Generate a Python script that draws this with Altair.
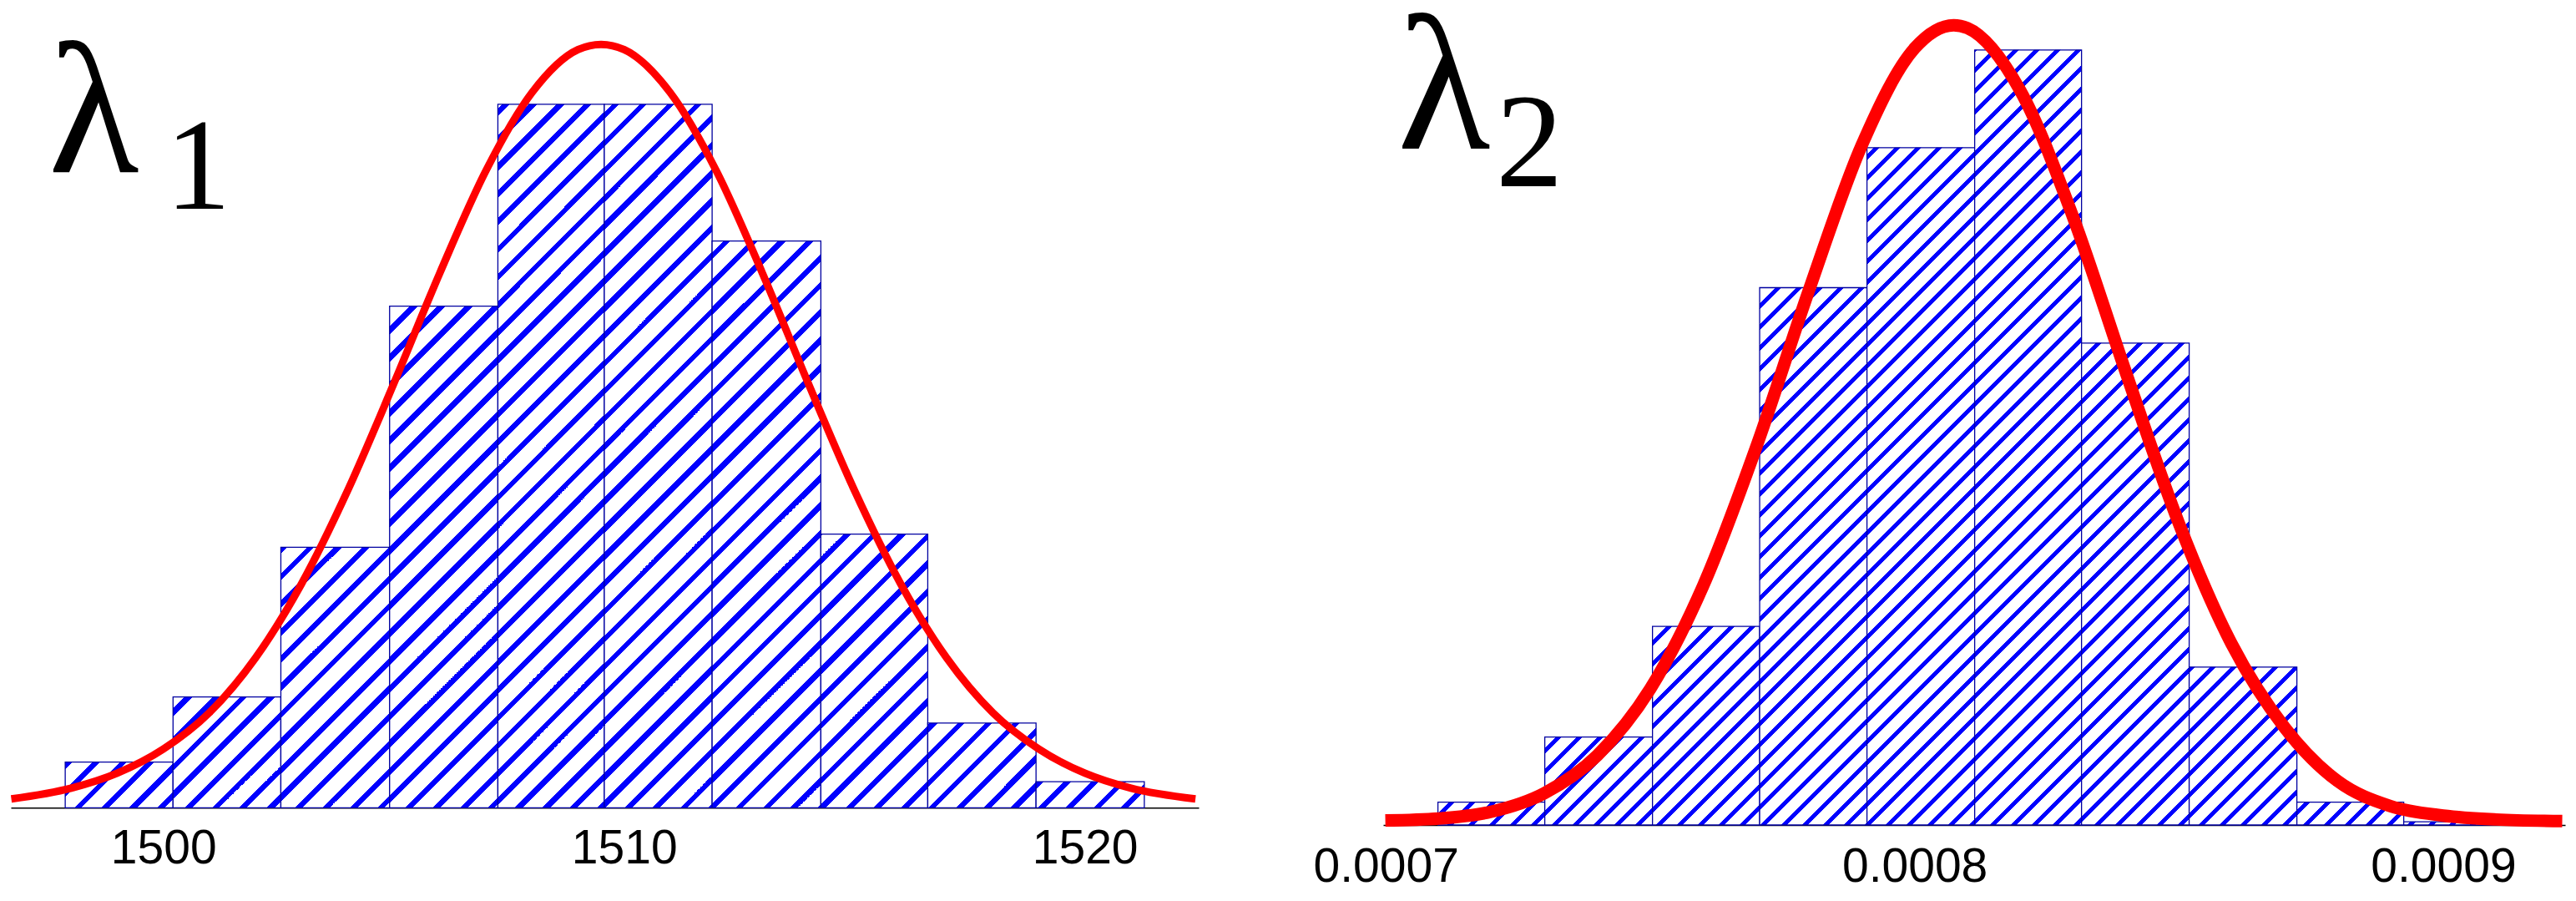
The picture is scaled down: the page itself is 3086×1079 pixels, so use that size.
import altair as alt
import pandas as pd

# ---------------- data ----------------
# left panel (lambda_1)
l1_edges = [1497.87, 1500.21, 1502.55, 1504.91, 1507.26, 1509.57, 1511.91, 1514.27, 1516.59, 1518.94, 1521.29]
l1_counts = [7, 17, 40, 77, 108, 108, 87, 42, 13, 4]
l1_curve_x = [1496.7, 1498, 1499, 1500, 1501, 1502, 1503, 1504, 1505, 1506, 1507, 1508, 1509, 1509.5,
              1510, 1511, 1512, 1513, 1514, 1515, 1516, 1517, 1518, 1519, 1520, 1521, 1522.4]
l1_curve_y = [1.35, 3.0, 5.3, 9.0, 14.6, 23.0, 34.4, 48.7, 65.1, 82.1, 97.8, 109.8, 116.4, 117.2,
              116.4, 109.8, 97.8, 82.1, 65.1, 48.7, 34.4, 23.0, 14.6, 9.0, 5.3, 3.0, 1.35]
l1_ticks = [1500, 1510, 1520]
l1_labels = ["λ", "1"]

# right panel (lambda_2)
l2_edges = [0.00070985, 0.00073006, 0.00075043, 0.0007707, 0.000791, 0.00081137, 0.00083158,
            0.00085194, 0.00087231, 0.00089252, 0.00091288]
l2_counts = [7, 27, 61, 165, 208, 238, 148, 48.5, 7, 1]
l2_curve_x = [0.0006999, 0.00071, 0.00072, 0.00073, 0.00074, 0.00075, 0.00076, 0.00077, 0.00078,
              0.00079, 0.0008, 0.0008074, 0.00081, 0.00082, 0.00083, 0.00084, 0.00085, 0.00086,
              0.00087, 0.00088, 0.00089, 0.0009, 0.00091, 0.0009225]
l2_curve_y = [1.4, 2.0, 4.1, 9.8, 21.4, 41.8, 73.4, 115.8, 164.1, 208.7, 238.5, 245.6, 244.7,
              225.5, 186.6, 138.8, 92.6, 55.5, 29.9, 13.5, 5.8, 2.9, 1.7, 1.2]
l2_ticks = [0.0007, 0.0008, 0.0009]
l2_labels = ["λ", "2"]

BLUE = "#0000ff"
WHITE = "#ffffff"
PAGE = 8  # page margin: plot coordinate + PAGE = page pixel


def hatch_gradient(w, h, X0, Y0, period, sw, phase):
    """45-degree stripe fill for one bar (style only)."""
    L = w + h
    first = (phase - (X0 + Y0)) % period
    s = first - period
    stops = [(0.0, WHITE)]
    while s - sw / 2 < L:
        a = max(0.0, s - sw / 2)
        b = min(L, s + sw / 2)
        if b > 0 and a < L:
            stops += [(a / L, WHITE), (a / L, BLUE), (b / L, BLUE), (b / L, WHITE)]
        s += period
    stops.append((1.0, WHITE))
    k = w * (w + h) / (w * w + h * h)
    return alt.LinearGradient(
        gradient="linear",
        stops=[alt.GradientStop(color=c, offset=round(o, 6)) for o, c in stops],
        x1=0, y1=0, x2=round(k, 6), y2=round(k * h / w, 6),
    )


def panel(edges, counts, cx, cy, ticks, xdom, xrange, yrange, px_per_count, period, sw, phase,
          curve_w, fmt, label_pad, axis_offset, labels, lam_pos, sub_pos):
    ymax = (yrange[0] - yrange[1]) / px_per_count
    xs = alt.Scale(domain=xdom, range=xrange, nice=False, zero=False)
    ys = alt.Scale(domain=[0, ymax], range=yrange, nice=False, zero=True)
    xaxis = alt.Axis(values=ticks, format=fmt, title=None, ticks=False, tickSize=0, grid=False,
                     orient="bottom",
                     domainColor="black", domainWidth=1.5, labelFont="Liberation Sans",
                     labelFontSize=57, labelColor="black", labelPadding=label_pad,
                     labelBaseline="alphabetic", labelFlush=False, labelOverlap=False,
                     offset=axis_offset)
    layers = []
    for i in range(len(counts)):
        e0, e1, c = edges[i], edges[i + 1], counts[i]
        f0 = (e0 - xdom[0]) / (xdom[1] - xdom[0])
        f1 = (e1 - xdom[0]) / (xdom[1] - xdom[0])
        px0 = xrange[0] + f0 * (xrange[1] - xrange[0])
        px1 = xrange[0] + f1 * (xrange[1] - xrange[0])
        ytop = yrange[0] - c * px_per_count
        grad = hatch_gradient(px1 - px0, yrange[0] - ytop, PAGE + px0, PAGE + ytop, period, sw, phase)
        df = pd.DataFrame({"x0": [e0], "x1": [e1], "count": [c]})
        layers.append(
            alt.Chart(df).mark_rect(fill=grad, stroke="#0000a0", strokeWidth=1.3).encode(
                x=alt.X("x0:Q", scale=xs, axis=xaxis),
                x2="x1:Q",
                y=alt.Y("count:Q", scale=ys, axis=None),
                y2=alt.datum(0),
            )
        )
    cdf = pd.DataFrame({"x0": cx, "count": cy})
    layers.append(
        alt.Chart(cdf).mark_line(color="#ff0000", strokeWidth=curve_w, interpolate="monotone").encode(
            x=alt.X("x0:Q", scale=xs, axis=xaxis),
            y=alt.Y("count:Q", scale=ys, axis=None),
        )
    )
    one = pd.DataFrame({"k": [0]})
    layers.append(
        alt.Chart(one).mark_text(text=labels[0], font="Liberation Serif", fontSize=lam_pos[2],
                                 align="left", baseline="alphabetic", color="black").encode(
            x=alt.value(lam_pos[0]), y=alt.value(lam_pos[1]))
    )
    layers.append(
        alt.Chart(one).mark_text(text=labels[1], font="Liberation Serif", fontSize=sub_pos[2],
                                 align="left", baseline="alphabetic", color="black").encode(
            x=alt.value(sub_pos[0]), y=alt.value(sub_pos[1]))
    )
    return alt.layer(*layers)


HEIGHT = 980
left_panel = panel(l1_edges, l1_counts, l1_curve_x, l1_curve_y, l1_ticks,
                   [1496.69, 1522.47], [5, 1428], [959.3, 12], 7.8,
                   33, 9, 4.5, 9, "d", 65.7, -20.7,
                   l1_labels, (50, 198, 224), (190, 242, 157))
right_panel = panel(l2_edges, l2_counts, l2_curve_x, l2_curve_y, l2_ticks,
                    [0.00069949, 0.00092305], [1649, 3065], [980, 12], 3.9,
                    25, 7, 0, 15, ".4f", 67, 0,
                    l2_labels, (1666, 169, 230), (1784, 215, 161))

chart = alt.layer(left_panel, right_panel).resolve_scale(
    x="independent", y="independent"
).resolve_axis(x="independent").properties(
    width=3065,
    height=HEIGHT,
    padding={"left": 0, "top": 0, "right": 5, "bottom": 80},
    autosize=alt.AutoSizeParams(type="none"),
    background="white",
).configure_view(stroke=None)

chart.save("out.html", embed_options={"renderer": "svg", "actions": False})
